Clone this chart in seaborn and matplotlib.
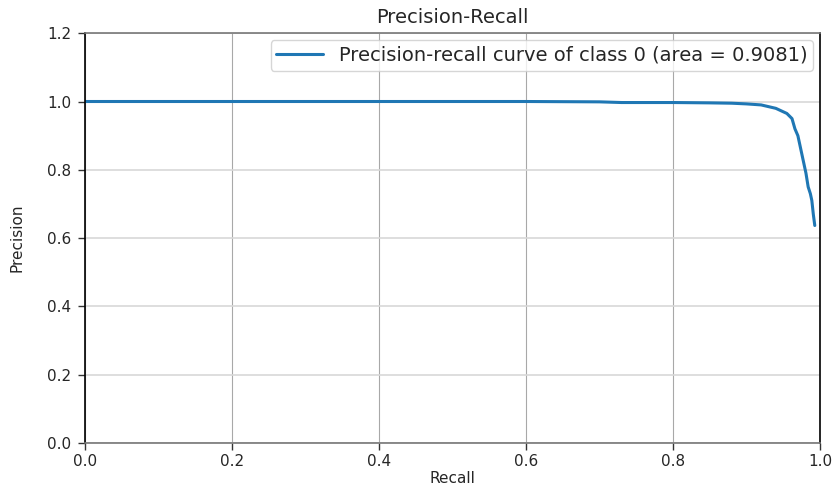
import numpy as np
import pandas as pd
import matplotlib
matplotlib.use("Agg")
import matplotlib.pyplot as plt
import seaborn as sns

# precision-recall curve points
recall = [0.0, 0.1, 0.2, 0.3, 0.4, 0.5, 0.6, 0.7, 0.73, 0.75, 0.8, 0.85,
          0.88, 0.9, 0.92, 0.94, 0.955, 0.962, 0.966, 0.970, 0.974, 0.977,
          0.981, 0.984, 0.987, 0.989, 0.991, 0.993]
precision = [1.0, 1.0, 1.0, 1.0, 1.0, 1.0, 1.0, 0.999, 0.997, 0.997, 0.997,
             0.996, 0.995, 0.993, 0.99, 0.98, 0.965, 0.95, 0.92, 0.90, 0.86,
             0.83, 0.79, 0.75, 0.73, 0.71, 0.67, 0.637]
area = 0.9081

sns.set_style("whitegrid")
plt.rcParams['font.family'] = ['DejaVu Sans']

fig = plt.figure(figsize=(8.37, 4.88), dpi=100)
ax = fig.add_axes([0.1016, 0.092, 0.878, 0.84])

df = pd.DataFrame({"Recall": recall, "Precision": precision})
sns.lineplot(data=df, x="Recall", y="Precision", ax=ax, sort=False,
             estimator=None, color="#1f77b4", lw=2.2,
             label="Precision-recall curve of class 0 (area = %0.4f)" % area)

ax.set_xlim(0.0, 1.0)
ax.set_ylim(0.0, 1.2)
ax.set_xticks(np.arange(0, 1.01, 0.2))
ax.set_yticks(np.arange(0, 1.21, 0.2))
ax.tick_params(axis="both", labelsize=11, length=5, width=1, color="#333333",
               left=True, bottom=True, pad=5)
ax.tick_params(axis="x", pad=3)
ax.set_xlabel("Recall", fontsize=11, labelpad=1)
ax.set_ylabel("Precision", fontsize=11, labelpad=16)
ax.set_title("Precision-Recall", fontsize=14, pad=7)

ax.xaxis.grid(True, color="#a8a8a8", lw=0.8)
ax.yaxis.grid(True, color="#d8d8d8", lw=1.2)
for side in ["left", "right"]:
    ax.spines[side].set_color("black")
    ax.spines[side].set_linewidth(1.2)
for side in ["top", "bottom"]:
    ax.spines[side].set_color("#777777")
    ax.spines[side].set_linewidth(1.2)

ax.legend(loc="upper right", fontsize=14, frameon=True, handlelength=2.4,
          borderaxespad=0.35, borderpad=0.3)

fig.savefig("out.png", dpi=100)
